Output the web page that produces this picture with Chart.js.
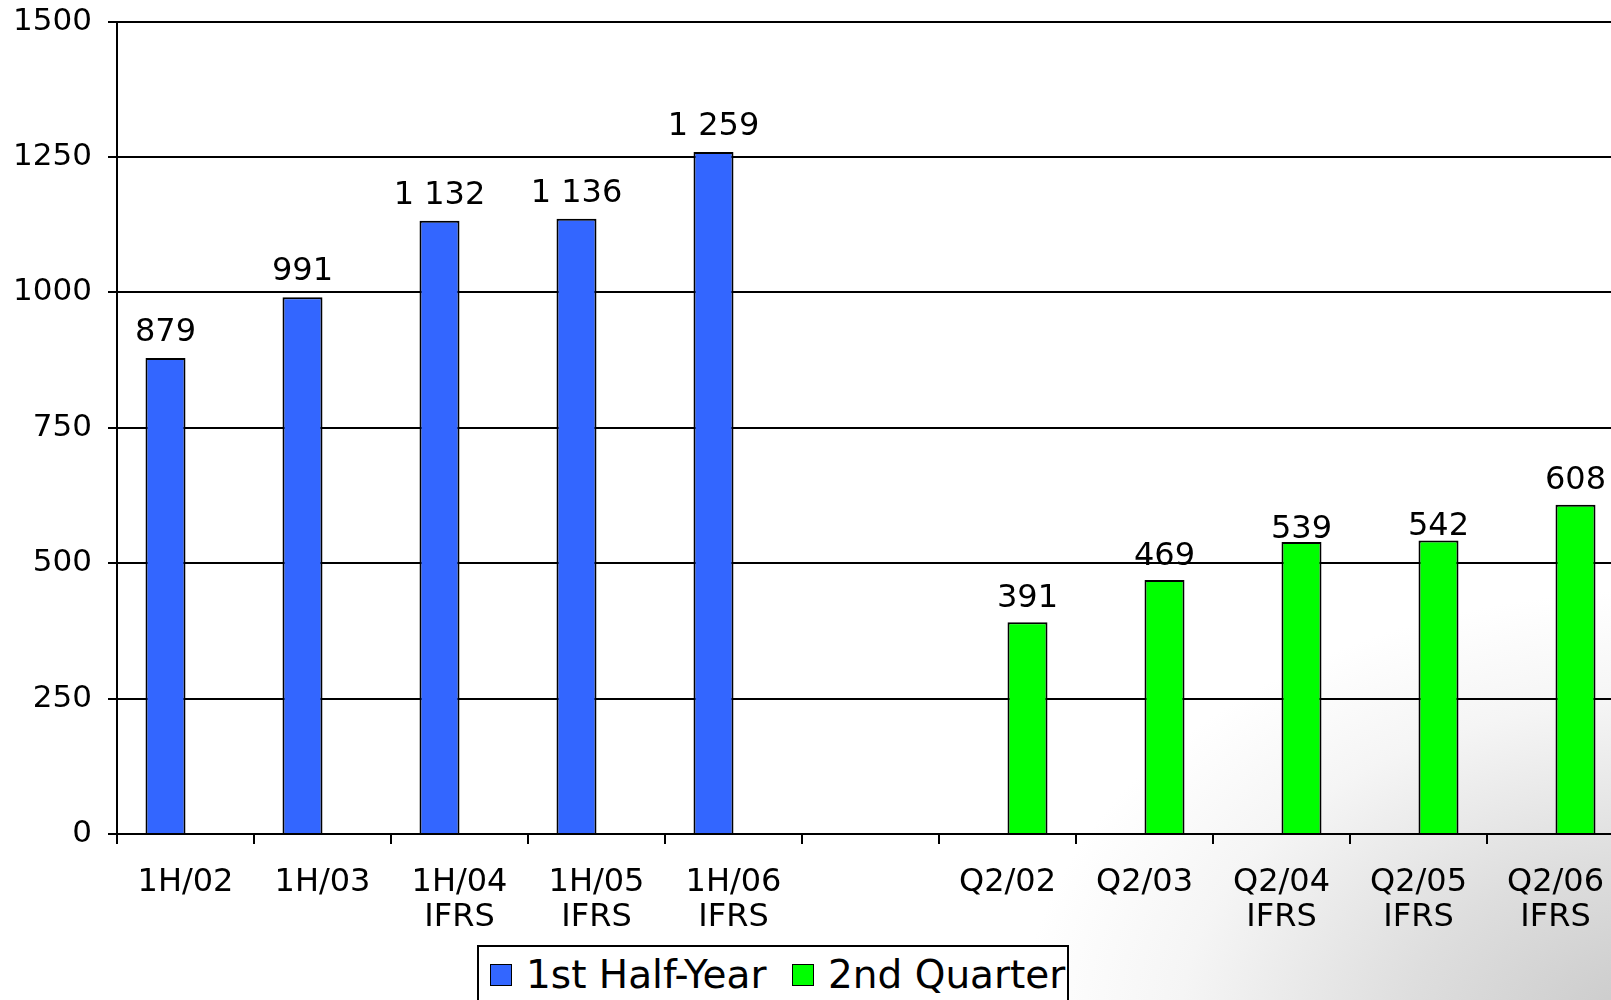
<!DOCTYPE html>
<html>
<head>
<meta charset="utf-8">
<script src="https://cdn.jsdelivr.net/npm/chart.js@4"></script>
<style>
  html, body { margin: 0; padding: 0; overflow: hidden; }
  body {
    width: 1611px; height: 1000px; position: relative;
    background: radial-gradient(640px 440px at 1660px 1030px, #c8c8c8 0%, #dedede 40%, #f5f5f5 75%, #ffffff 100%), #ffffff;
    font-family: "DejaVu Sans", Verdana, sans-serif;
  }
  #chart { position: absolute; left: 0; top: 0; }
  #legend {
    position: absolute; left: 477px; top: 945px; width: 592px; height: 70px;
    border: 2px solid #000; background: #fff; box-sizing: border-box;
    font-size: 39px; color: #000; white-space: nowrap;
  }
  #legend .item { position: absolute; top: 6px; line-height: 44px; }
  #legend .box {
    display: inline-block; width: 20px; height: 20px; border: 1.5px solid #000;
    vertical-align: middle; margin-right: 14px; position: relative; top: -3px;
  }
</style>
</head>
<body>
<canvas id="chart" width="1630" height="1000"></canvas>
<div id="legend"></div>
<script>
var categories = [
  '1H/02', '1H/03', ['1H/04', 'IFRS'], ['1H/05', 'IFRS'], ['1H/06', 'IFRS'], '',
  'Q2/02', 'Q2/03', ['Q2/04', 'IFRS'], ['Q2/05', 'IFRS'], ['Q2/06', 'IFRS']
];
var halfYearValues = [879, 991, 1132, 1136, 1259, null, null, null, null, null, null];
var quarterValues = [null, null, null, null, null, null, 391, 469, 539, 542, 608];
var yTicks = [0, 250, 500, 750, 1000, 1250, 1500];

var seriesNames = ['1st Half-Year', '2nd Quarter'];
var seriesColors = ['#3366FF', '#00FF00'];

var fontFamily = '"DejaVu Sans", Verdana, sans-serif';

function formatValue(v) {
  if (v >= 1000) {
    var rest = String(v % 1000);
    while (rest.length < 3) rest = '0' + rest;
    return Math.floor(v / 1000) + ' ' + rest;
  }
  return String(v);
}

// Value labels above each bar
var valueLabels = {
  id: 'valueLabels',
  afterDatasetsDraw: function (chart, args, opts) {
    var ctx = chart.ctx;
    ctx.save();
    ctx.font = '32px ' + fontFamily;
    ctx.fillStyle = '#000';
    ctx.textAlign = 'center';
    ctx.textBaseline = 'alphabetic';
    chart.data.datasets.forEach(function (ds, i) {
      var meta = chart.getDatasetMeta(i);
      meta.data.forEach(function (bar, j) {
        var v = ds.data[j];
        if (v === null || v === undefined) return;
        var gap = (opts.gaps && opts.gaps[i] && opts.gaps[i][j] != null) ? opts.gaps[i][j] : 17;
        ctx.fillText(formatValue(v), bar.x, bar.y - gap);
      });
    });
    ctx.restore();
  }
};

var chart = new Chart(document.getElementById('chart'), {
  type: 'bar',
  data: {
    labels: categories,
    datasets: [
      {
        label: seriesNames[0],
        data: halfYearValues,
        backgroundColor: seriesColors[0],
        borderColor: '#000',
        borderWidth: 2
      },
      {
        label: seriesNames[1],
        data: quarterValues,
        backgroundColor: seriesColors[1],
        borderColor: '#000',
        borderWidth: 2
      }
    ]
  },
  options: {
    responsive: false,
    animation: false,
    layout: { padding: { left: 14, top: 21.5, right: 6, bottom: 43.5 } },
    datasets: {
      bar: { categoryPercentage: 0.584, barPercentage: 1.0 }
    },
    scales: {
      x: {
        grid: {
          display: true,
          drawOnChartArea: false,
          drawTicks: true,
          tickLength: 10,
          color: '#000',
          lineWidth: 2,
          offset: true
        },
        border: { display: true, color: '#000', width: 2 },
        ticks: {
          color: '#000',
          font: { family: fontFamily, size: 32, lineHeight: 1.1 },
          padding: 21,
          maxRotation: 0,
          autoSkip: false
        }
      },
      y: {
        min: yTicks[0],
        max: yTicks[yTicks.length - 1],
        afterBuildTicks: function (scale) {
          scale.ticks = yTicks.map(function (v) { return { value: v }; });
        },
        afterFit: function (scale) {
          scale.width = 103;
          scale.paddingTop = 0;
          scale.paddingBottom = 0;
        },
        grid: {
          color: '#000',
          lineWidth: 2,
          tickLength: 9,
          drawTicks: true
        },
        border: { display: true, color: '#000', width: 2 },
        ticks: {
          color: '#000',
          font: { family: fontFamily, size: 31 },
          padding: 16,
          callback: function (value) { return String(value); }
        }
      }
    },
    plugins: {
      legend: { display: false },
      tooltip: { enabled: false },
      valueLabels: {
        gaps: [[], [null, null, null, null, null, null, 15, 15, 4, 5, 16]]
      }
    }
  },
  plugins: [valueLabels]
});

// Legend box
var legend = document.getElementById('legend');
var legendLeft = [11, 313];
seriesNames.forEach(function (name, i) {
  var item = document.createElement('div');
  item.className = 'item';
  item.style.left = legendLeft[i] + 'px';
  var box = document.createElement('span');
  box.className = 'box';
  box.style.background = seriesColors[i];
  item.appendChild(box);
  item.appendChild(document.createTextNode(name));
  legend.appendChild(item);
});
</script>
</body>
</html>
